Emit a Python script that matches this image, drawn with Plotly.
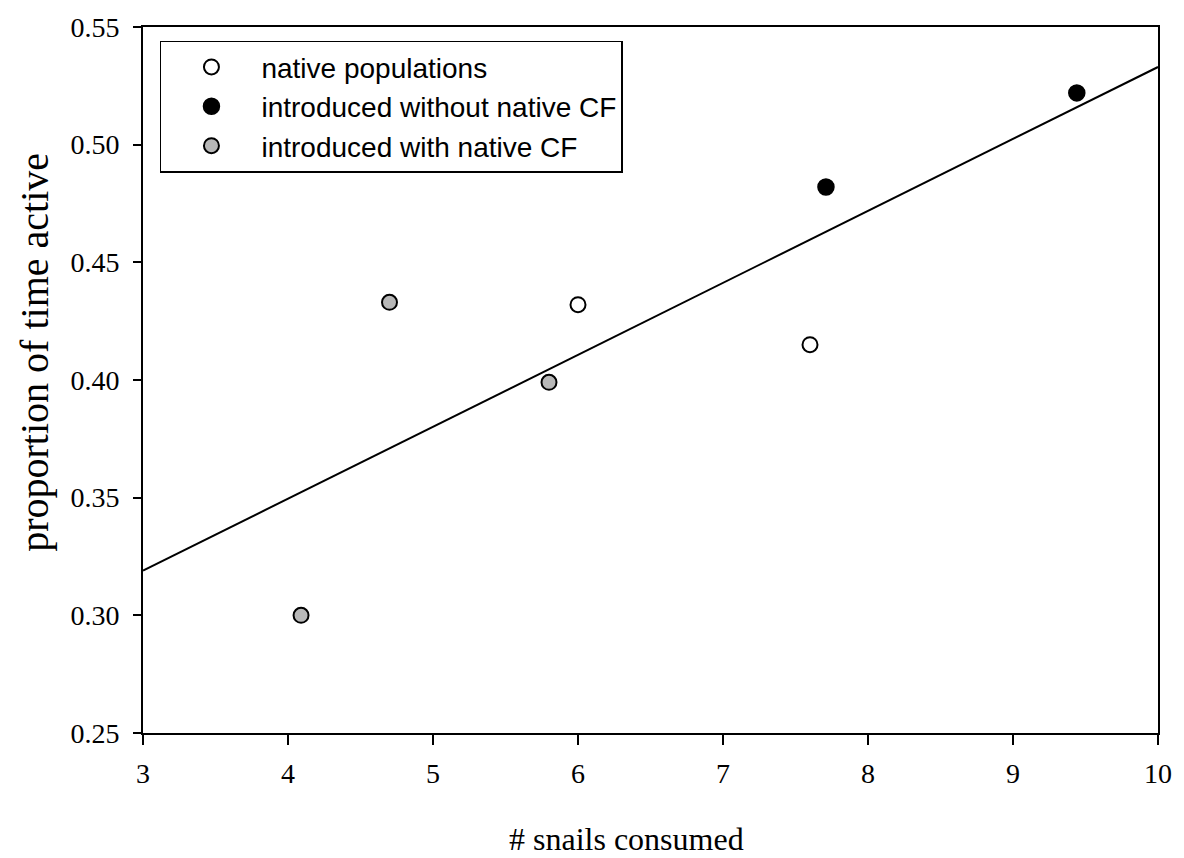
import plotly.graph_objects as go

# Data
native_x = [6.0, 7.6]
native_y = [0.432, 0.415]
intro_wo_x = [7.71, 9.44]
intro_wo_y = [0.482, 0.522]
intro_w_x = [4.09, 4.70, 5.80]
intro_w_y = [0.300, 0.433, 0.399]
fit_x = [3.0, 10.0]
fit_y = [0.319, 0.533]

x_ticks = [3, 4, 5, 6, 7, 8, 9, 10]
y_ticks = [0.25, 0.30, 0.35, 0.40, 0.45, 0.50, 0.55]
y_ticklabels = ["0.25", "0.30", "0.35", "0.40", "0.45", "0.50", "0.55"]

serif = "Liberation Serif, Times New Roman, serif"
sans = "Liberation Sans, Arial, sans-serif"

fig = go.Figure()
fig.add_trace(go.Scatter(x=fit_x, y=fit_y, mode="lines",
                         line=dict(color="black", width=2), showlegend=False, hoverinfo="skip"))
fig.add_trace(go.Scatter(x=native_x, y=native_y, mode="markers", name="native populations",
                         marker=dict(size=15, color="white", line=dict(color="black", width=2))))
fig.add_trace(go.Scatter(x=intro_wo_x, y=intro_wo_y, mode="markers", name="introduced without native CF",
                         marker=dict(size=16, color="black", line=dict(color="black", width=1.5))))
fig.add_trace(go.Scatter(x=intro_w_x, y=intro_w_y, mode="markers", name="introduced with native CF",
                         marker=dict(size=15, color="#b8b8b8", line=dict(color="black", width=2))))

fig.update_layout(
    width=1184, height=858,
    margin=dict(l=143, r=26, t=20, b=125),
    paper_bgcolor="white", plot_bgcolor="white",
    font=dict(family=serif, color="black"),
    showlegend=True,
    legend=dict(x=0.0167, y=0.9806, xanchor="left", yanchor="top",
                bordercolor="black", borderwidth=1.5, bgcolor="white",
                font=dict(family=sans, size=28, color="black"),
                itemwidth=90, tracegroupgap=0),
    xaxis=dict(range=[3, 10], tickvals=x_ticks, ticks="outside", ticklen=10, tickwidth=1.5,
               tickcolor="black", showline=True, linecolor="black", linewidth=2, mirror=True,
               showgrid=False, zeroline=False, tickfont=dict(family=serif, size=28),
               ticklabelstandoff=4),
    yaxis=dict(range=[0.25, 0.55], tickvals=y_ticks, ticktext=y_ticklabels, ticks="outside",
               ticklen=8, tickwidth=1.5, tickcolor="black", showline=True, linecolor="black",
               linewidth=2, mirror=True, showgrid=False, zeroline=False,
               tickfont=dict(family=serif, size=28), ticklabelstandoff=8),
    annotations=[
        dict(text="# snails consumed", xref="paper", yref="paper",
             x=(626 - 143) / 1015, y=-(840 - 733) / 713, xanchor="center", yanchor="middle",
             showarrow=False, font=dict(family=serif, size=32)),
        dict(text="proportion of time active", xref="paper", yref="paper",
             x=-(143 - 35) / 1015, y=(733 - 349) / 713, xanchor="center", yanchor="middle",
             textangle=-90, showarrow=False, font=dict(family=serif, size=40)),
    ],
)

fig.write_html("out.html")
